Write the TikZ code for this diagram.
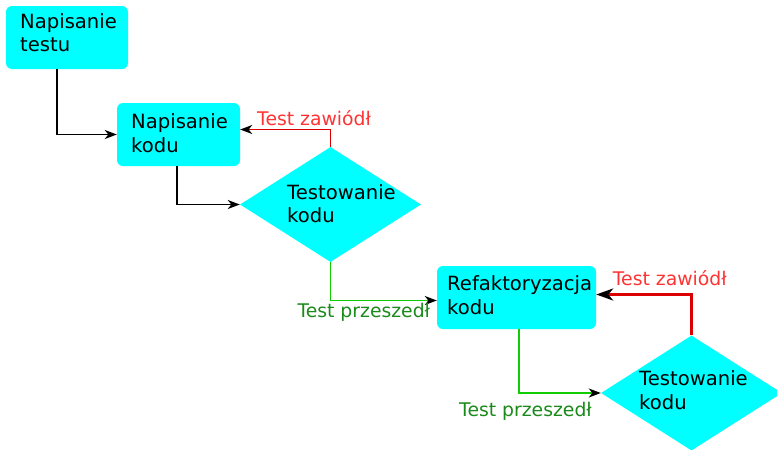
\documentclass[tikz,border=0pt]{standalone}
\usepackage{fontspec}
\setmainfont{DejaVu Sans}
\usetikzlibrary{shapes.geometric,arrows.meta}
\definecolor{boxcyan}{HTML}{00FFFF}
\definecolor{failtext}{HTML}{FF3333}
\definecolor{failline}{HTML}{DD0000}
\definecolor{passline}{HTML}{11CC00}
\definecolor{passtext}{HTML}{1A8A1A}
\tikzset{
  stepbox/.style={draw=none, fill=boxcyan, rounded corners=6pt, minimum height=63pt, inner sep=0pt},
  decision/.style={diamond, draw=none, fill=boxcyan, aspect=1.57, minimum width=181pt, minimum height=115pt, inner sep=0pt},
  nodetext/.style={anchor=base west, inner sep=0pt, align=left, font=\fontsize{19.6}{23.6}\selectfont},
  lbl/.style={anchor=base west, inner sep=0pt, font=\fontsize{18.8}{22}\selectfont},
  conn/.style={line width=1.4pt, -{Stealth[black, length=12pt, width=9pt, inset=3.5pt]}},
}
\begin{document}
\begin{tikzpicture}[x=1pt, y=-1pt]
\useasboundingbox (0,0) rectangle (777,450);
% shapes
\node[stepbox, minimum width=122pt] (b1) at (67,37.5) {};
\node[stepbox, minimum width=123pt] (b2) at (178.5,134.5) {};
\node[decision] (d1) at (330.5,204.5) {};
\node[stepbox, minimum width=159pt] (b3) at (516.5,297.5) {};
\node[decision] (d2) at (691.5,393) {};
% texts (anchored at baseline of last line)
\node[nodetext] (t1) at (20,51.8) {Napisanie\\testu};
\node[nodetext] (t2) at (131,152.5) {Napisanie\\kodu};
\node[nodetext] (t3) at (287,222.7) {Testowanie\\kodu};
\node[nodetext] (t4) at (447,314.3) {Refaktoryzacja\\kodu};
\node[nodetext] (t5) at (639,409.5) {Testowanie\\kodu};
% connectors
\draw[conn] ([xshift=-10pt]b1.south) |- (b2.west);
\draw[conn] ([xshift=-1.5pt]b2.south) |- (d1.west);
\draw[conn, draw=failline] (d1.north) |- ([yshift=5pt]b2.east);
\draw[conn, draw=passline] (d1.south) |- ([yshift=-3pt]b3.west);
\draw[conn, draw=passline] ([xshift=2.5pt]b3.south) |- (d2.west);
\draw[line width=2.8pt, draw=failline, -{Stealth[black, length=17pt, width=12pt, inset=5pt]}] (d2.north) |- ([yshift=3pt]b3.east);
% labels
\node[lbl, text=failtext] (l1) at (257,125) {Test zawiódł};
\node[lbl, text=passtext] (l2) at (297.3,317.5) {Test przeszedł};
\node[lbl, text=passtext] (l3) at (459,416.5) {Test przeszedł};
\node[lbl, text=failtext] (l4) at (612.7,285.7) {Test zawiódł};
\end{tikzpicture}
\end{document}
